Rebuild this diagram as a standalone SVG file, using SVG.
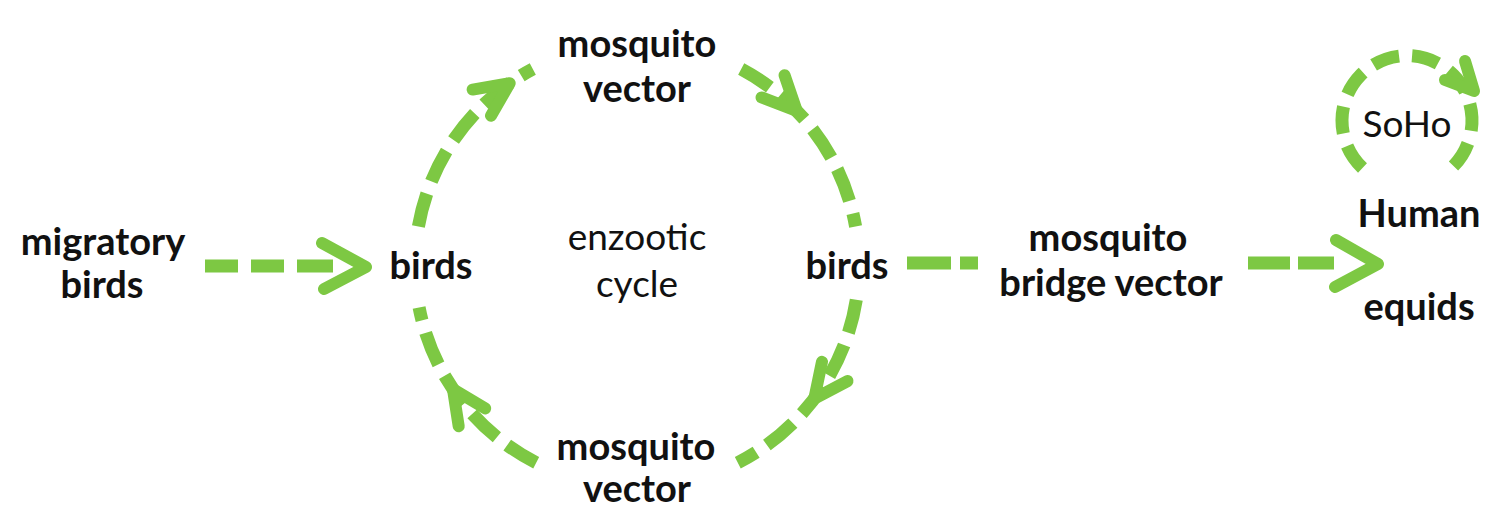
<svg xmlns="http://www.w3.org/2000/svg" width="1496" height="513" viewBox="0 0 1496 513">
<style>
.b{font-family:Lato,"Open Sans","Liberation Sans",sans-serif;font-weight:bold;font-size:38px;fill:#111;text-anchor:middle}
.r{font-family:Lato,"Open Sans","Liberation Sans",sans-serif;font-weight:normal;font-size:37px;fill:#111;text-anchor:middle}
.d{fill:none;stroke:#7DC843;stroke-width:13;stroke-dasharray:34 13}
.s{fill:none;stroke:#7DC843;stroke-width:13}
.h{fill:none;stroke:#7DC843;stroke-width:12;stroke-linecap:round;stroke-linejoin:round}
</style>
<rect width="1496" height="513" fill="#fff"/>
<g id="connectors">
  <!-- migratory birds -> birds -->
  <path class="s" d="M205,266H238M251,266H284M297,266H333"/>
  <polyline class="h" points="322,243 366,267 324,289"/>
  <!-- enzootic cycle arcs -->
  <path class="d" d="M418.4,226.5A222,222 0 0 1 532.8,69"/>
  <polyline class="h" points="843,231 859,265 875,231" transform="rotate(235 637 265)"/>
  <path class="d" d="M741.2,69A222,222 0 0 1 855.6,226.5"/>
  <polyline class="h" points="843,231 859,265 875,231" transform="rotate(316 637 265)"/>
  <path class="d" d="M856.3,299.7A222,222 0 0 1 737.8,462.8"/>
  <polyline class="h" points="843,231 859,265 875,231" transform="rotate(37 637 265)"/>
  <path class="d" d="M536.2,462.8A222,222 0 0 1 419.1,307.4"/>
  <polyline class="h" points="843,231 859,265 875,231" transform="rotate(146 637 265)"/>
  <!-- birds -> bridge vector -->
  <path class="s" d="M907,263H951M960,263H978"/>
  <!-- bridge vector -> human/equids -->
  <path class="s" d="M1248,263H1290M1298,263H1334"/>
  <polyline class="h" points="1336,240 1378,264 1335,287"/>
  <!-- SoHo loop -->
  <path class="d" style="stroke-dasharray:27 13" d="M1362.5,168A65,65 0 1 1 1451.5,168"/>
  <polyline class="h" points="1445,80 1474,91 1465,61"/>
</g>
<g id="migratory-birds"><text class="b" x="103" y="255">migratory</text><text class="b" x="102" y="298">birds</text></g>
<g id="birds-left"><text class="b" x="431" y="279">birds</text></g>
<g id="birds-right"><text class="b" x="847" y="279">birds</text></g>
<g id="mosquito-top"><text class="b" x="637" y="57">mosquito</text><text class="b" x="637" y="102">vector</text></g>
<g id="mosquito-bottom"><text class="b" x="636" y="460">mosquito</text><text class="b" x="637" y="502">vector</text></g>
<g id="enzootic-cycle"><text class="r" x="637" y="250">enzootic</text><text class="r" x="637" y="297">cycle</text></g>
<g id="bridge-vector"><text class="b" x="1108" y="251">mosquito</text><text class="b" x="1111" y="296">bridge vector</text></g>
<g id="human"><text class="b" x="1419" y="227">Human</text></g>
<g id="equids"><text class="b" x="1419" y="320">equids</text></g>
<g id="soho"><text class="r" x="1407" y="137">SoHo</text></g>
</svg>
